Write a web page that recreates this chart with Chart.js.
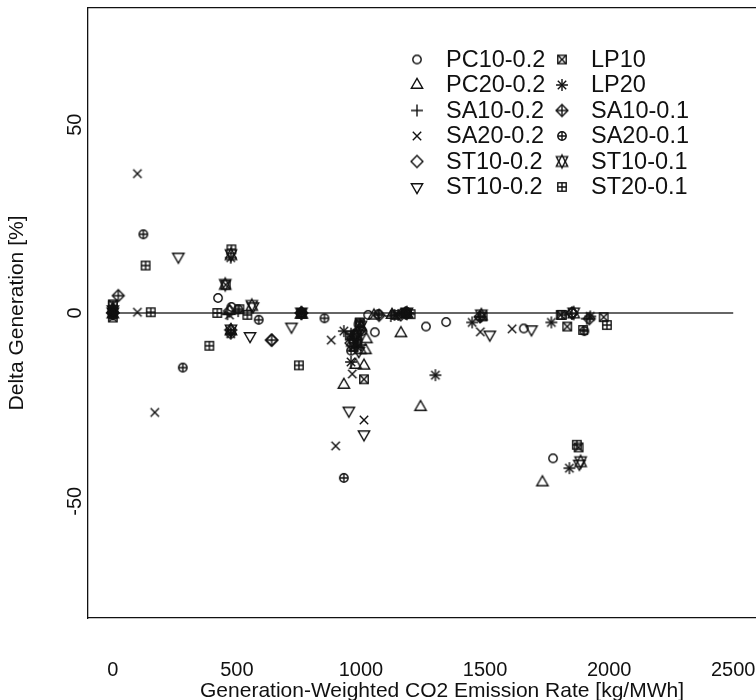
<!DOCTYPE html>
<html>
<head>
<meta charset="utf-8">
<script src="https://cdn.jsdelivr.net/npm/chart.js@4.4.1/dist/chart.umd.min.js"></script>
<style>
  html, body { margin: 0; padding: 0; background: #fff; overflow: hidden; }
  #wrap { width: 810px; height: 700px; }
</style>
</head>
<body>
<div id="wrap"><canvas id="deltaChart" width="810" height="700"></canvas></div>
<script>
// [emission rate, delta generation] per series
const pc10_02 = [[0, 0.5], [424, 4], [478, 1.6], [505, 1], [760, 0], [975, -5.5], [990, -3], [1005, -4.8], [1029, -0.5], [1056, -5.1], [1185, 0], [1262, -3.6], [1343, -2.4], [1656, -4.1], [1774, -38.6], [1850, 0]];
const pc20_02 = [[0, 1], [470, 0.5], [760, -0.5], [931, -19.1], [978, -13.8], [998, -9.9], [1012, -14], [1018, -9.9], [1022, -7], [1052, -0.7], [1125, -0.5], [1161, -5.4], [1240, -25], [1731, -45]];
const sa10_02 = [[0, 0], [462, -0.3], [505, 0.5], [760, 0], [960, -5.5], [985, -7], [1000, -8.5], [1120, -0.8], [1135, -0.5], [1180, 0], [1480, -1], [1850, -0.2], [1910, -1.5]];
const sa20_02 = [[0, -0.5], [99, 37], [99, 0.2], [169, -26.4], [470, -0.5], [880, -7.2], [898, -35.3], [965, -16.2], [1012, -28.4], [1481, -5], [1609, -4.2]];
const st10_02a = [[0, 0], [470, 0.5], [640, -7.2], [760, 0], [960, -8], [975, -6], [990, -5], [1160, -0.5], [1180, 0], [1850, 0]];
const st10_02b = [[0, 1], [264, 15], [553, -6.1], [565, 1.8], [720, -3.6], [951, -25.9], [991, -10.1], [1012, -32.2], [1519, -5.7], [1687, -4.3], [1880, -40]];
const lp10 = [[0, 2.3], [0, -1.2], [455, 7.5], [760, 0], [955, -6], [970, -9], [995, -2.7], [1012, -17.6], [1140, -0.5], [1180, 0], [1490, -0.9], [1805, -0.5], [1831, -3.6], [1877, -35.7], [1978, -1.1]];
const lp20 = [[0, 0], [475, 14.7], [475, -5.5], [760, 0], [931, -4.8], [960, -13], [985, -9], [1150, -0.5], [1190, 0], [1300, -16.5], [1448, -2.5], [1767, -2.5], [1840, -41.2], [1924, -0.9]];
const sa10_01 = [[0, 0], [22, 4.6], [475, -4.5], [640, -7.2], [760, 0], [970, -7], [995, -4.5], [1073, -0.6], [1180, 0], [1480, -1], [1920, -1.5]];
const sa20_01 = [[0, -0.5], [123, 20.9], [282, -14.5], [475, -5.5], [588, -1.8], [760, 0], [853, -1.4], [931, -43.8], [960, -10], [985, -8], [1070, -0.3], [1185, 0], [1900, -4.8]];
const st10_01 = [[0, 0], [453, 7.6], [476, 15.5], [476, -4.5], [560, 2], [760, 0], [965, -7.5], [980, -6], [1000, -3.5], [1185, 0], [1485, -0.5], [1857, 0], [1885, -39.5]];
const st20_01 = [[0, 2], [132, 12.6], [153, 0.2], [389, -8.7], [421, 0], [478, 16.9], [510, 1], [542, -0.5], [750, -13.9], [985, -6.5], [995, -2.5], [1180, 0], [1200, -0.3], [1810, -0.5], [1870, -35], [1895, -4.5], [1991, -3.2]];

const seriesLabels = ["PC10-0.2", "PC20-0.2", "SA10-0.2", "SA20-0.2", "ST10-0.2", "ST10-0.2",
                      "LP10", "LP20", "SA10-0.1", "SA20-0.1", "ST10-0.1", "ST20-0.1"];
const seriesData = [pc10_02, pc20_02, sa10_02, sa20_02, st10_02a, st10_02b,
                    lp10, lp20, sa10_01, sa20_01, st10_01, st20_01];
const seriesPch = [1, 2, 3, 4, 5, 6, 7, 8, 9, 10, 11, 12];

const xTicks = [0, 500, 1000, 1500, 2000, 2500];
const yTicks = [-50, 0, 50];
const zeroLine = [[0, 0], [2500, 0]];

const INK = "#111";

// R style plotting symbols drawn on small canvases
const makeSymbol = (pch) => {
  const c = document.createElement("canvas");
  c.width = 20;
  c.height = 20;
  const g = c.getContext("2d");
  g.translate(10, 10);
  g.strokeStyle = INK;
  g.lineWidth = 1.4;
  const R = 4.2;
  const S = Math.SQRT2 * R;
  const tr = 1.555 * R;
  const txc = tr * Math.sqrt(3) / 2;

  const circle = (r) => { g.beginPath(); g.arc(0, 0, r, 0, Math.PI * 2); g.stroke(); };
  const poly = (pts) => {
    g.beginPath();
    pts.forEach((p, i) => (i ? g.lineTo(p[0], p[1]) : g.moveTo(p[0], p[1])));
    g.closePath();
    g.stroke();
  };
  const plus = (h) => { g.beginPath(); g.moveTo(-h, 0); g.lineTo(h, 0); g.moveTo(0, -h); g.lineTo(0, h); g.stroke(); };
  const cross = (h) => { g.beginPath(); g.moveTo(-h, -h); g.lineTo(h, h); g.moveTo(-h, h); g.lineTo(h, -h); g.stroke(); };
  const square = (h) => g.strokeRect(-h, -h, 2 * h, 2 * h);
  const diamond = (h) => poly([[0, -h], [h, 0], [0, h], [-h, 0]]);

  switch (pch) {
    case 1: circle(R); break;
    case 2: poly([[0, -tr], [txc, tr / 2], [-txc, tr / 2]]); break;
    case 3: plus(S); break;
    case 4: cross(R); break;
    case 5: diamond(S); break;
    case 6: poly([[0, tr], [txc, -tr / 2], [-txc, -tr / 2]]); break;
    case 7: square(R); cross(R); break;
    case 8: cross(R); plus(S); break;
    case 9: diamond(S); plus(S); break;
    case 10: circle(R); plus(R); break;
    case 11: {
      const yc = 0.5 * (tr / 2 + tr);
      poly([[0, -tr], [txc, yc], [-txc, yc]]);
      poly([[0, tr], [txc, -yc], [-txc, -yc]]);
      break;
    }
    case 12: square(R); plus(R); break;
  }
  return c;
};

const symbols = seriesPch.map(makeSymbol);

// legend laid out like R's legend(ncol = 2, bty = "n")
const rLegend = {
  id: "rLegend",
  afterDraw(chart) {
    const ctx = chart.ctx;
    ctx.save();
    ctx.font = "23.5px 'Liberation Sans', Arial, sans-serif";
    ctx.fillStyle = INK;
    ctx.textBaseline = "middle";
    seriesLabels.forEach((label, i) => {
      const col = Math.floor(i / 6);
      const row = i % 6;
      const sx = col ? 562 : 417;
      const y = 59.5 + row * 25.5;
      const sym = symbols[i];
      ctx.drawImage(sym, sx - sym.width / 2, y - sym.height / 2);
      ctx.fillText(label, sx + 29, y + 1);
    });
    ctx.restore();
  },
};

Chart.defaults.font.family = "'Liberation Sans', Arial, sans-serif";
Chart.defaults.color = INK;

const datasets = seriesData.map((pts, i) => ({
  label: seriesLabels[i],
  data: pts.map(([x, y]) => ({ x, y })),
  pointStyle: symbols[i],
  pointRadius: 5,
  pointHoverRadius: 5,
  order: 0,
}));

datasets.push({
  label: "zero",
  data: zeroLine.map(([x, y]) => ({ x, y })),
  showLine: true,
  borderColor: "#666",
  borderWidth: 1.8,
  pointRadius: 0,
  order: 1,
});

const ctx = document.getElementById("deltaChart").getContext("2d");
const deltaChart = new Chart(ctx, {
  type: "scatter",
  data: { datasets: datasets },
  options: {
    responsive: false,
    devicePixelRatio: 1,
    animation: false,
    layout: { padding: { left: 0, top: 0, right: 14, bottom: 0 } },
    plugins: {
      legend: { display: false },
      tooltip: { enabled: false },
    },
    scales: {
      x: {
        type: "linear",
        position: "bottom",
        min: -100,
        max: 2753,
        afterBuildTicks: (s) => { s.ticks = xTicks.map((v) => ({ value: v })); },
        afterFit: (s) => { s.height = 82; s.paddingLeft = 0; s.paddingRight = 0; },
        grid: { display: false, drawTicks: false },
        border: { display: true, color: INK, width: 1.3 },
        ticks: { padding: 40, font: { size: 20 }, maxRotation: 0, autoSkip: false, callback: (v) => String(v) },
        title: {
          display: true,
          text: "Generation-Weighted CO2 Emission Rate [kg/MWh]",
          font: { size: 21 },
          padding: { top: 0, bottom: -3.5 },
        },
      },
      xTop: {
        type: "linear",
        position: "top",
        afterFit: (s) => { s.height = 8; },
        grid: { display: false, drawTicks: false },
        border: { display: true, color: INK, width: 1.3 },
        ticks: { display: false },
      },
      y: {
        type: "linear",
        position: "left",
        min: -81,
        max: 81,
        afterBuildTicks: (s) => { s.ticks = yTicks.map((v) => ({ value: v })); },
        afterFit: (s) => { s.width = 88; s.paddingTop = 0; s.paddingBottom = 0; },
        grid: { display: false, drawTicks: false },
        border: { display: true, color: INK, width: 1.3 },
        ticks: { minRotation: 90, maxRotation: 90, crossAlign: "center", padding: -2, font: { size: 20 }, autoSkip: false, callback: (v) => String(v) },
        title: {
          display: true,
          text: "Delta Generation [%]",
          font: { size: 21 },
          padding: { top: 5, bottom: 0 },
        },
      },
    },
  },
  plugins: [rLegend],
});
</script>
</body>
</html>
